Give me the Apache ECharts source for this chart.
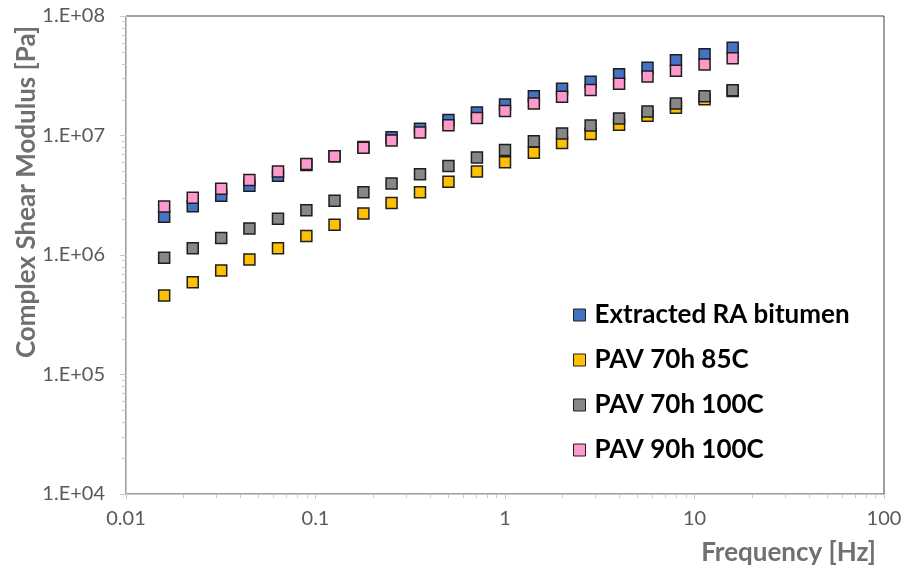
<!DOCTYPE html>
<html>
<head>
<meta charset="utf-8">
<title>Complex Shear Modulus vs Frequency</title>
<script src="https://cdn.jsdelivr.net/npm/echarts@6/dist/echarts.min.js"></script>
<style>
  html, body { margin: 0; padding: 0; background: #ffffff; }
  #chart { width: 906px; height: 569px; }
</style>
</head>
<body>
<div id="chart"></div>
<script>
// Frequency sweep points [Hz]
const frequency = [0.0159, 0.0225, 0.0318, 0.0448, 0.0634, 0.0895, 0.126, 0.179, 0.252, 0.356,
  0.503, 0.711, 1.00, 1.42, 2.00, 2.83, 4.00, 5.65, 7.98, 11.3, 15.9];

// Complex shear modulus |G*| [Pa] per binder
const extractedRA = [2.09e6, 2.56e6, 3.13e6, 3.80e6, 4.61e6, 5.66e6, 6.71e6, 8.01e6, 9.66e6, 1.14e7,
  1.35e7, 1.56e7, 1.82e7, 2.13e7, 2.46e7, 2.82e7, 3.25e7, 3.69e7, 4.26e7, 4.78e7, 5.43e7];
const pav70h85C = [4.58e5, 5.92e5, 7.42e5, 9.17e5, 1.14e6, 1.44e6, 1.79e6, 2.22e6, 2.73e6, 3.35e6,
  4.10e6, 4.99e6, 5.97e6, 7.18e6, 8.65e6, 1.03e7, 1.23e7, 1.46e7, 1.71e7, 2.01e7, 2.36e7];
const pav70h100C = [9.48e5, 1.14e6, 1.39e6, 1.67e6, 2.01e6, 2.37e6, 2.84e6, 3.35e6, 3.97e6, 4.73e6,
  5.55e6, 6.56e6, 7.56e6, 8.94e6, 1.04e7, 1.21e7, 1.39e7, 1.59e7, 1.85e7, 2.13e7, 2.39e7];
const pav90h100C = [2.54e6, 3.01e6, 3.58e6, 4.24e6, 5.00e6, 5.77e6, 6.71e6, 7.91e6, 9.08e6, 1.06e7,
  1.22e7, 1.40e7, 1.60e7, 1.85e7, 2.11e7, 2.40e7, 2.71e7, 3.11e7, 3.49e7, 3.93e7, 4.43e7];

const seriesNames = ['Extracted RA bitumen', 'PAV 70h 85C', 'PAV 70h 100C', 'PAV 90h 100C'];
const seriesColors = ['#4472C4', '#FFC000', '#878787', '#FF99CC'];

// Axis tick labels
const xTickLabels = ['0.01', '0.1', '1', '10', '100'];
const yTickLabels = ['1.E+04', '1.E+05', '1.E+06', '1.E+07', '1.E+08'];

const X_MIN = 0.01, X_MAX = 100, Y_MIN = 1e4, Y_MAX = 1e8;

// Log-style minor ticks (2..9 within each decade)
function minorTicks(lo, hi) {
  const out = [];
  for (let d = lo; d < hi; d *= 10) {
    for (let k = 2; k <= 9; k++) out.push(+(d * k).toPrecision(3));
  }
  return out;
}
const xMinor = minorTicks(X_MIN, X_MAX);
const yMinor = minorTicks(Y_MIN, Y_MAX);

const FONT = 'Lato';
const AXIS_GRAY = '#c8c8c8';

function pairs(xs, ys) { return xs.map((x, i) => [x, ys[i]]); }

function decadeIndex(v, base) { return Math.round(Math.log10(v / base)); }

const scatterSeries = [extractedRA, pav70h85C, pav70h100C, pav90h100C].map((vals, i) => ({
  name: seriesNames[i],
  type: 'scatter',
  data: pairs(frequency, vals),
  symbol: 'rect',
  symbolSize: 11,
  itemStyle: { color: seriesColors[i], borderColor: '#1e1e1e', borderWidth: 1.5, opacity: 1 },
  emphasis: { disabled: true },
  z: 3
}));

const chart = echarts.init(document.getElementById('chart'), null, { renderer: 'canvas' });

chart.setOption({
  animation: false,
  backgroundColor: '#ffffff',
  grid: {
    left: 126, right: 22, top: 16, bottom: 75,
    show: true, borderColor: '#404040', borderWidth: 1, backgroundColor: 'transparent'
  },
  xAxis: {
    type: 'log', logBase: 10, min: X_MIN, max: X_MAX,
    axisLine: { show: true, onZero: false, lineStyle: { color: AXIS_GRAY, width: 1 } },
    axisTick: { show: true, inside: false, length: 5, lineStyle: { color: AXIS_GRAY } },
    splitLine: { show: false },
    axisLabel: {
      margin: 15, color: '#595959', fontFamily: FONT, fontSize: 20,
      formatter: v => xTickLabels[decadeIndex(v, X_MIN)]
    }
  },
  yAxis: {
    type: 'log', logBase: 10, min: Y_MIN, max: Y_MAX,
    axisLine: { show: true, onZero: false, lineStyle: { color: AXIS_GRAY, width: 1 } },
    axisTick: { show: true, inside: false, length: 6, lineStyle: { color: AXIS_GRAY } },
    splitLine: { show: false },
    axisLabel: {
      margin: 21, color: '#595959', fontFamily: FONT, fontSize: 20,
      formatter: v => yTickLabels[decadeIndex(v, Y_MIN)]
    }
  },
  legend: {
    data: seriesNames,
    orient: 'vertical',
    left: 568, top: 295,
    itemWidth: 12, itemHeight: 12, itemGap: 15,
    icon: 'rect',
    selectedMode: false,
    itemStyle: { borderColor: '#1e1e1e', borderWidth: 1 },
    textStyle: {
      color: '#000000', fontFamily: FONT, fontWeight: 'bold', fontSize: 26,
      lineHeight: 30, padding: [0, 0, 0, 4]
    }
  },
  graphic: [
    {
      type: 'text', x: 27, y: 192, rotation: Math.PI / 2,
      style: {
        text: 'Complex Shear Modulus [Pa]', fill: '#707070',
        font: 'bold 26px ' + FONT, align: 'center', verticalAlign: 'middle'
      }
    },
    {
      type: 'text', x: 876, y: 553,
      style: {
        text: 'Frequency [Hz]', fill: '#707070',
        font: 'bold 26px ' + FONT, align: 'right', verticalAlign: 'middle'
      }
    }
  ],
  series: [
    {
      name: 'x minor ticks', type: 'custom', silent: true, clip: false, z: 1,
      data: xMinor.map(v => [v, Y_MIN]),
      renderItem: (params, api) => {
        const p = api.coord([api.value(0), api.value(1)]);
        const x = Math.round(p[0]) + 0.5;
        return { type: 'line', shape: { x1: x, y1: p[1], x2: x, y2: p[1] + 4 },
          style: { stroke: AXIS_GRAY, lineWidth: 1 } };
      }
    },
    {
      name: 'y minor ticks', type: 'custom', silent: true, clip: false, z: 1,
      data: yMinor.map(v => [X_MIN, v]),
      renderItem: (params, api) => {
        const p = api.coord([api.value(0), api.value(1)]);
        const y = Math.round(p[1]) + 0.5;
        return { type: 'line', shape: { x1: p[0] - 4, y1: y, x2: p[0], y2: y },
          style: { stroke: AXIS_GRAY, lineWidth: 1 } };
      }
    }
  ].concat(scatterSeries)
});
</script>
</body>
</html>
